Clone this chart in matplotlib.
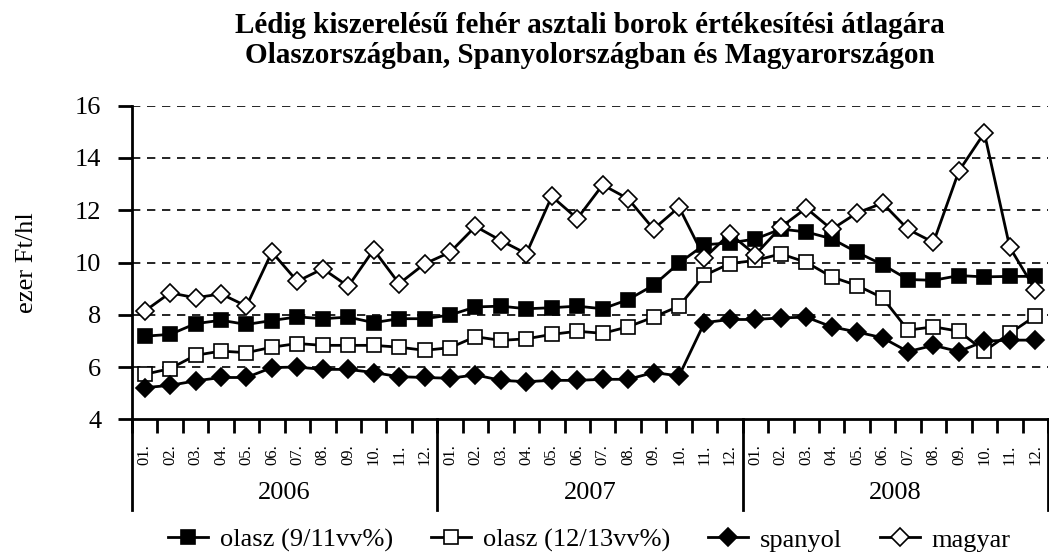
#
# Lédig fehér asztali borok átlagára, havi bontásban (2006-2008)
#

import matplotlib.pyplot as plt
import numpy as np

plt.rc('font', family='Liberation Serif')

years = ['2006', '2007', '2008']
months = ['01.', '02.', '03.', '04.', '05.', '06.', '07.', '08.', '09.', '10.', '11.', '12.']

# ezer Ft/hl
olasz_9_11 = [7.18, 7.25, 7.66, 7.79, 7.63, 7.78, 7.92, 7.85, 7.91, 7.70, 7.85, 7.85,
              7.99, 8.30, 8.33, 8.23, 8.27, 8.33, 8.23, 8.58, 9.13, 9.98, 10.68, 10.75,
              10.90, 11.28, 11.17, 10.91, 10.39, 9.92, 9.35, 9.32, 9.50, 9.45, 9.47, 9.47]
olasz_12_13 = [5.72, 5.94, 6.45, 6.61, 6.55, 6.76, 6.90, 6.83, 6.83, 6.83, 6.76, 6.64,
               6.74, 7.16, 7.02, 7.08, 7.25, 7.37, 7.29, 7.54, 7.91, 8.33, 9.51, 9.96,
               10.08, 10.33, 10.01, 9.45, 9.12, 8.65, 7.41, 7.54, 7.37, 6.61, 7.29, 7.95]
spanyol = [5.21, 5.30, 5.47, 5.60, 5.60, 5.98, 6.00, 5.91, 5.91, 5.79, 5.63, 5.60,
           5.57, 5.70, 5.49, 5.44, 5.49, 5.49, 5.53, 5.53, 5.79, 5.66, 7.70, 7.82,
           7.82, 7.88, 7.91, 7.54, 7.34, 7.12, 6.59, 6.83, 6.59, 6.99, 7.03, 7.03]
magyar = [8.14, 8.84, 8.65, 8.80, 8.33, 10.40, 9.28, 9.76, 9.09, 10.49, 9.19, 9.95,
          10.39, 11.38, 10.84, 10.34, 12.53, 11.68, 12.97, 12.44, 11.28, 12.12, 10.18, 11.10,
          10.30, 11.35, 12.08, 11.27, 11.90, 12.27, 11.27, 10.77, 13.50, 14.96, 10.58, 8.96]

n = len(years) * len(months)
x = np.arange(n)

fig = plt.figure(figsize=(10.49, 5.55), dpi=100)
ax = fig.add_axes([0.1258, 0.2445, 0.8732, 0.565])

style = dict(color='black', lw=2, markeredgecolor='black', markeredgewidth=1.2)
ax.plot(x, olasz_9_11, marker='s', ms=9.5, mfc='black', label='olasz (9/11vv%)', **style)
ax.plot(x, olasz_12_13, marker='s', ms=9.5, mfc='white', label='olasz (12/13vv%)', **style)
ax.plot(x, spanyol, marker='D', ms=9, mfc='black', label='spanyol', **style)
ax.plot(x, magyar, marker='D', ms=9, mfc='white', label='magyar', **style)

ax.set_xlim(-0.5, n - 0.5)
ax.set_ylim(4, 16)
ax.set_yticks(np.arange(4, 17, 2))
for v in np.arange(6, 17, 2):
    ax.axhline(v, color='black', lw=1.2, linestyle=(0, (5, 4)), zorder=0)

for s in ['top', 'right']:
    ax.spines[s].set_visible(False)
ax.spines['left'].set_linewidth(2)
ax.spines['bottom'].set_linewidth(2)
ax.tick_params(axis='y', direction='out', length=10, width=2, labelsize=19, pad=12)

# category axis: short ticks between months, long lines between years
ax.set_xticks(np.arange(-0.5, n, 1))
ax.set_xticklabels([])
ax.tick_params(axis='x', direction='out', length=10, width=2)
for k in range(len(years) + 1):
    ax.plot([k * 12 - 0.5] * 2, [0, -0.29], transform=ax.get_xaxis_transform(),
            color='black', lw=2, clip_on=False)
for i in range(n):
    ax.text(i, -0.113, months[i % 12], rotation=90, ha='center', va='center',
            fontsize=12, transform=ax.get_xaxis_transform())
for k, yr in enumerate(years):
    ax.text(k * 12 + 5.5, -0.235, yr, ha='center', va='center', fontsize=19,
            transform=ax.get_xaxis_transform())

ax.set_ylabel('ezer Ft/hl', fontsize=19)
ax.yaxis.set_label_coords(-0.103, 0.5)

fig.text(0.562, 0.927, 'Lédig kiszerelésű fehér asztali borok értékesítési átlagára\n'
         'Olaszországban, Spanyolországban és Magyarországon',
         ha='center', va='center', fontsize=21, fontweight='bold', linespacing=1.1)

fig.legend(loc='center', bbox_to_anchor=(0.562, 0.027), ncol=4, frameon=False,
           fontsize=19, handlelength=1.5, columnspacing=1.45, handletextpad=0.45)

plt.savefig('out.png', dpi=100)
